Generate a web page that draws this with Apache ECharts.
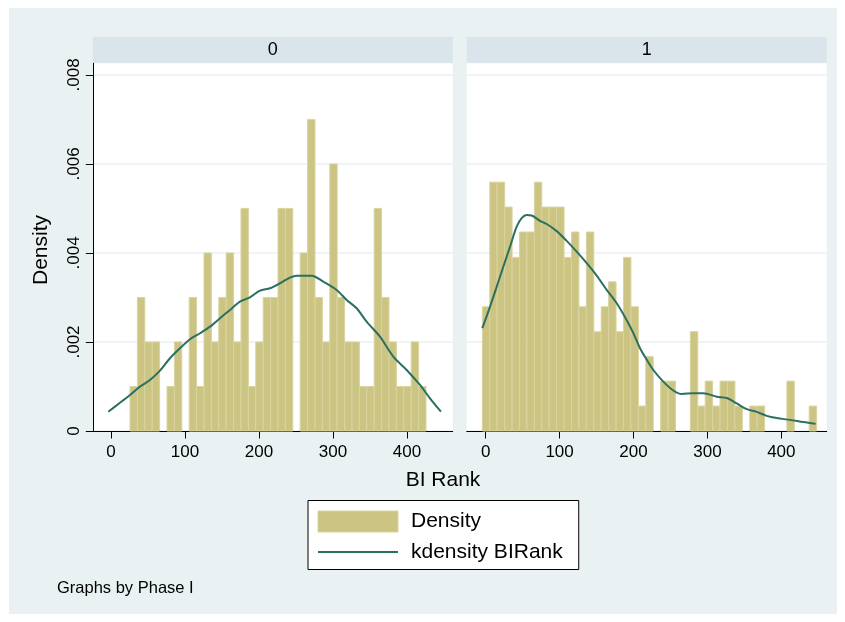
<!DOCTYPE html>
<html>
<head>
<meta charset="utf-8">
<script src="https://cdn.jsdelivr.net/npm/echarts@6/dist/echarts.min.js"></script>
<style>
html,body{margin:0;padding:0;background:#fff;}
#chart{width:845px;height:622px;}
</style>
</head>
<body>
<div id="chart"></div>
<script>
// ---------------- data ----------------
const panelLabels = ['0', '1'];
const xTickValues = [0, 100, 200, 300, 400];
const yTickValues = [0, 0.002, 0.004, 0.006, 0.008];
const yTickLabels = ['0', '.002', '.004', '.006', '.008'];

// Panel 0 histogram (bin start, bin width, densities)
const binStart0 = 25.7;
const binWidth0 = 10;
const density0 = [0.001, 0.003, 0.002, 0.002, 0, 0.001, 0.002, 0, 0.003, 0.001,
                  0.004, 0.002, 0.003, 0.004, 0.002, 0.005, 0.001, 0.002, 0.003, 0.003,
                  0.005, 0.005, 0, 0.004, 0.007, 0.003, 0.002, 0.006, 0.003, 0.002,
                  0.002, 0.001, 0.001, 0.005, 0.003, 0.002, 0.001, 0.001, 0.002, 0.001];

// Panel 1 histogram
const binStart1 = -4.5;
const binWidth1 = 10.05;
const density1 = [0.00279, 0.00559, 0.00559, 0.00503, 0.0039, 0.00447, 0.00447, 0.00559, 0.00503, 0.00503,
                  0.00503, 0.0039, 0.00447, 0.00279, 0.00447, 0.00223, 0.00279, 0.00335, 0.00223, 0.0039,
                  0.00279, 0.00056, 0.00167, 0, 0.00112, 0.00112, 0, 0, 0.00223, 0.00056,
                  0.00112, 0.00056, 0.00112, 0.00112, 0.00056, 0, 0.00056, 0.00056, 0, 0,
                  0, 0.00112, 0, 0, 0.00056];

// Kernel density curves
const kdX0 = [-3.6, 12.2, 25.7, 39.2, 52.7, 66.2, 79.7, 93.2, 106.8, 120.3, 133.8, 147.3, 160.8, 174.3,
              187.8, 201.4, 214.9, 228.4, 241.9, 250.9, 271.2, 286.9, 305, 318.5, 332, 345.5, 363.5,
              381.5, 399.6, 417.6, 431.1, 445.9];
const kdY0 = [0.000434, 0.000636, 0.000809, 0.000996, 0.001146, 0.001355, 0.001634, 0.001858, 0.002061,
              0.002196, 0.002344, 0.002533, 0.002719, 0.002906, 0.003004, 0.003153, 0.003207, 0.003319,
              0.003445, 0.00349, 0.00349, 0.003355, 0.003169, 0.002944, 0.002757, 0.002456, 0.002119,
              0.00167, 0.001371, 0.001034, 0.000735, 0.000434];

const kdX1 = [-4.6, 5.8, 14.9, 23.8, 32.9, 41.9, 48.7, 55.5, 62.2, 73.5, 82.5, 96.1, 109.6, 123.1, 136.7,
              150.2, 163.7, 177.3, 190.8, 199.8, 208.8, 217.9, 226.8, 240.3, 253.9, 265.2, 280.9, 294.5,
              312.6, 326.1, 339.6, 353.2, 366.7, 380.2, 393.7, 411.8, 429.8, 446.5];
const kdY1 = [0.00231, 0.00279, 0.00324, 0.00369, 0.00414, 0.00459, 0.00478, 0.00485, 0.00484, 0.00472,
              0.00465, 0.00449, 0.00427, 0.00403, 0.00377, 0.00349, 0.00317, 0.00287, 0.00249, 0.0022,
              0.00186, 0.0016, 0.00137, 0.00111, 0.00091, 0.00083, 0.00085, 0.00085, 0.00077, 0.00074,
              0.00062, 0.00049, 0.00043, 0.00034, 0.00029, 0.00025, 0.0002, 0.00016];

// ---------------- chart ----------------
const FONT = "'Liberation Sans', Arial, Helvetica, sans-serif";
const BAR_FILL = '#ccc483';
const BAR_EDGE = '#d9d49e';
const LINE_COLOR = '#2b6f61';
const GRID_LINE = '#eaf1f3';

function binData(start, width, dens) {
  return dens.map((d, i) => [start + i * width, start + (i + 1) * width, d]);
}

function renderBar(params, api) {
  const h = api.value(2);
  if (!h) return null;
  const p0 = api.coord([api.value(0), h]);
  const p1 = api.coord([api.value(1), 0]);
  return {
    type: 'rect',
    shape: { x: p0[0], y: p0[1], width: p1[0] - p0[0], height: p1[1] - p0[1] },
    style: { fill: BAR_FILL, stroke: BAR_EDGE, lineWidth: 1 }
  };
}

function makeX(gridIndex, min, max) {
  return {
    type: 'value', gridIndex: gridIndex, min: min, max: max,
    axisLine: { show: true, onZero: false, lineStyle: { color: '#000', width: 1 } },
    axisTick: { show: true, customValues: xTickValues, length: 7.5, lineStyle: { color: '#000', width: 1 } },
    axisLabel: { show: true, customValues: xTickValues, fontSize: 17, color: '#000', fontFamily: FONT, margin: 13 },
    splitLine: { show: false }
  };
}

function makeY(gridIndex, showAxis) {
  return {
    type: 'value', gridIndex: gridIndex, min: 0, max: 0.00826, interval: 0.002,
    axisLine: { show: showAxis, onZero: false, lineStyle: { color: '#000', width: 1 } },
    axisTick: { show: showAxis, customValues: yTickValues, length: 7.5, lineStyle: { color: '#000', width: 1 } },
    axisLabel: {
      show: showAxis, customValues: yTickValues, rotate: 90,
      fontSize: 17, color: '#000', fontFamily: FONT, margin: 10,
      formatter: function (v) {
        const i = yTickValues.findIndex(t => Math.abs(t - v) < 1e-9);
        return i >= 0 ? yTickLabels[i] : '';
      }
    },
    splitLine: { show: true, lineStyle: { color: GRID_LINE, width: 1.5 } }
  };
}

const chart = echarts.init(document.getElementById('chart'), null, { renderer: 'canvas' });

const option = {
  backgroundColor: '#ffffff',
  animation: false,
  textStyle: { fontFamily: FONT },
  grid: [
    { left: 93.3, top: 63.3, width: 359.4, height: 367.7, show: true, backgroundColor: '#fff', borderWidth: 0, containLabel: false },
    { left: 466.7, top: 63.3, width: 360, height: 367.7, show: true, backgroundColor: '#fff', borderWidth: 0, containLabel: false }
  ],
  xAxis: [makeX(0, -23.9, 461.8), makeX(1, -25.7, 461.4)],
  yAxis: [makeY(0, true), makeY(1, false)],
  legend: {
    left: 308, top: 500.5, orient: 'vertical',
    backgroundColor: '#fff', borderColor: '#000', borderWidth: 1, borderRadius: 0,
    padding: [10, 16, 7, 9],
    itemWidth: 80, itemHeight: 21, itemGap: 9,
    selectedMode: false,
    textStyle: { fontSize: 21, color: '#000', fontFamily: FONT, padding: [0, 0, 0, 8] },
    data: [
      { name: 'Density', icon: 'rect', itemStyle: { color: BAR_FILL, borderColor: BAR_EDGE, borderWidth: 1 } },
      { name: 'kdensity BIRank', itemStyle: { color: 'rgba(0,0,0,0)', borderWidth: 0, opacity: 0 },
        lineStyle: { color: LINE_COLOR, width: 2 } }
    ]
  },
  graphic: [
    { type: 'rect', z: -100, shape: { x: 9, y: 8, width: 828, height: 606 }, style: { fill: '#eaf1f3' }, silent: true },
    { type: 'rect', z: -90, shape: { x: 92.7, y: 36.7, width: 360, height: 26.6 }, style: { fill: '#d9e5ea' }, silent: true },
    { type: 'rect', z: -90, shape: { x: 466.7, y: 36.7, width: 360, height: 26.6 }, style: { fill: '#d9e5ea' }, silent: true },
    { type: 'text', x: 272.7, y: 50, style: { text: panelLabels[0], font: '18px ' + FONT, fill: '#000', textAlign: 'center', textVerticalAlign: 'middle', align: 'center', verticalAlign: 'middle' } },
    { type: 'text', x: 646.7, y: 50, style: { text: panelLabels[1], font: '18px ' + FONT, fill: '#000', textAlign: 'center', textVerticalAlign: 'middle', align: 'center', verticalAlign: 'middle' } },
    { type: 'text', x: 443, y: 480, style: { text: 'BI Rank', font: '21px ' + FONT, fill: '#000', textAlign: 'center', textVerticalAlign: 'middle', align: 'center', verticalAlign: 'middle' } },
    { type: 'text', x: 41, y: 250, rotation: Math.PI / 2, style: { text: 'Density', font: '21px ' + FONT, fill: '#000', textAlign: 'center', textVerticalAlign: 'middle', align: 'center', verticalAlign: 'middle' } },
    { type: 'text', x: 57, y: 588, style: { text: 'Graphs by Phase I', font: '16.5px ' + FONT, fill: '#000', textAlign: 'left', textVerticalAlign: 'middle', align: 'left', verticalAlign: 'middle' } }
  ],
  series: [
    {
      name: 'Density', type: 'custom', xAxisIndex: 0, yAxisIndex: 0,
      renderItem: renderBar, encode: { x: [0, 1], y: 2 },
      itemStyle: { color: BAR_FILL, borderColor: BAR_EDGE },
      data: binData(binStart0, binWidth0, density0), z: 2
    },
    {
      name: 'Density', type: 'custom', xAxisIndex: 1, yAxisIndex: 1,
      renderItem: renderBar, encode: { x: [0, 1], y: 2 },
      itemStyle: { color: BAR_FILL, borderColor: BAR_EDGE },
      data: binData(binStart1, binWidth1, density1), z: 2
    },
    {
      name: 'kdensity BIRank', type: 'line', xAxisIndex: 0, yAxisIndex: 0,
      symbol: 'none', smooth: 0.3, color: LINE_COLOR,
      lineStyle: { color: LINE_COLOR, width: 2 },
      data: kdX0.map((x, i) => [x, kdY0[i]]), z: 3
    },
    {
      name: 'kdensity BIRank', type: 'line', xAxisIndex: 1, yAxisIndex: 1,
      symbol: 'none', smooth: 0.3, color: LINE_COLOR,
      lineStyle: { color: LINE_COLOR, width: 2 },
      data: kdX1.map((x, i) => [x, kdY1[i]]), z: 3
    }
  ]
};

chart.setOption(option);
</script>
</body>
</html>
